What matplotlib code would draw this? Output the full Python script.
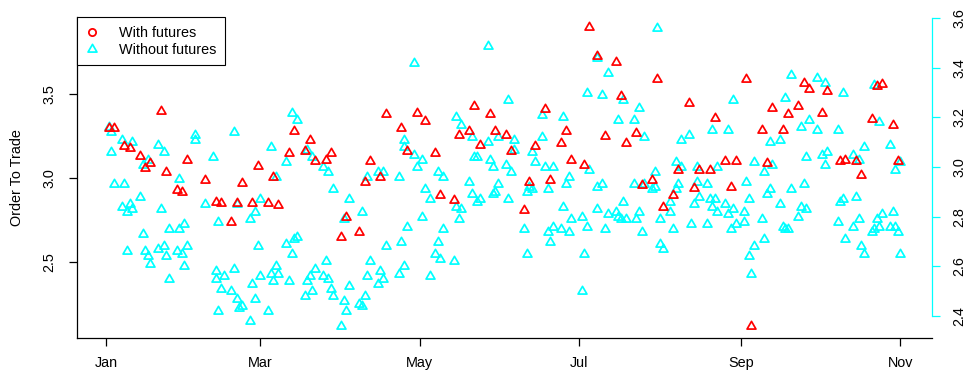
import numpy as np
import matplotlib
matplotlib.use('Agg')
import matplotlib.pyplot as plt
from matplotlib.path import Path
from matplotlib.lines import Line2D

plt.rcParams['font.family'] = ['Liberation Sans', 'DejaVu Sans']

year_start = np.datetime64('2015-01-01')

# days since Jan 1 and values, "With futures" (left axis)
red_days = [1, 3, 7, 9, 13, 15, 17, 21, 23, 27,
            29, 31, 38, 42, 44, 48, 50, 52, 56, 58,
            62, 64, 66, 70, 72, 76, 78, 80, 84, 86,
            90, 92, 97, 99, 101, 105, 107, 113, 115, 119,
            122, 126, 128, 133, 135, 139, 141, 143, 147, 149,
            153, 155, 160, 162, 164, 168, 170, 174, 176, 178,
            183, 185, 188, 191, 195, 197, 199, 203, 205, 209,
            211, 213, 217, 219, 223, 225, 227, 231, 233, 237,
            239, 241, 245, 247, 251, 253, 255, 259, 261, 265,
            267, 269, 274, 276, 281, 283, 287, 289, 293, 295,
            297, 301, 303]
red_vals = [3.30, 3.30, 3.19, 3.18, 3.13, 3.06, 3.09, 3.40, 3.04, 2.93,
            2.92, 3.11, 2.99, 2.86, 2.85, 2.74, 2.85, 2.97, 2.85, 3.07,
            2.85, 3.01, 2.84, 3.15, 3.28, 3.16, 3.23, 3.10, 3.11, 3.15,
            2.65, 2.77, 2.68, 2.98, 3.10, 3.01, 3.38, 3.30, 3.16, 3.39,
            3.34, 3.15, 2.90, 2.87, 3.26, 3.28, 3.43, 3.20, 3.38, 3.28,
            3.26, 3.16, 2.81, 2.98, 3.19, 3.41, 2.99, 3.21, 3.28, 3.11,
            3.08, 3.90, 3.73, 3.25, 3.69, 3.49, 3.21, 3.27, 2.96, 2.99,
            3.59, 2.83, 2.90, 3.05, 3.45, 2.94, 3.05, 3.05, 3.36, 3.10,
            2.95, 3.10, 3.59, 2.12, 3.29, 3.09, 3.42, 3.29, 3.38, 3.43,
            3.57, 3.53, 3.39, 3.52, 3.10, 3.11, 3.10, 3.02, 3.35, 3.55,
            3.56, 3.32, 3.10]

# "Without futures" (right axis)
cyan_days = [1, 2, 2, 3, 6, 6, 7, 8, 8, 9,
             10, 10, 13, 14, 14, 15, 16, 16, 17, 20,
             20, 21, 22, 22, 23, 24, 24, 27, 28, 28,
             29, 30, 30, 31, 34, 34, 38, 41, 43, 42,
             42, 44, 45, 43, 48, 49, 49, 50, 51, 52,
             50, 55, 55, 57, 56, 57, 58, 59, 59, 62,
             63, 63, 64, 65, 65, 66, 69, 69, 70, 71,
             71, 72, 73, 73, 76, 77, 78, 77, 79, 79,
             80, 83, 83, 84, 85, 85, 86, 87, 87, 90,
             91, 92, 91, 93, 93, 97, 98, 98, 99, 100,
             100, 101, 104, 104, 105, 106, 106, 107, 112, 112,
             113, 114, 114, 114, 115, 118, 118, 119, 121, 121,
             122, 124, 124, 126, 127, 127, 128, 129, 129, 133,
             134, 134, 135, 136, 136, 139, 140, 140, 141, 142,
             142, 143, 146, 146, 147, 148, 148, 149, 150, 150,
             153, 154, 154, 155, 156, 156, 160, 161, 161, 162,
             163, 163, 164, 167, 167, 168, 169, 169, 170, 171,
             171, 174, 175, 175, 176, 177, 177, 178, 182, 182,
             183, 184, 184, 185, 188, 188, 188, 190, 190, 191,
             192, 192, 195, 196, 196, 197, 198, 198, 199, 202,
             202, 203, 204, 204, 205, 206, 206, 209, 210, 210,
             211, 212, 212, 213, 216, 216, 217, 218, 218, 219,
             220, 220, 223, 224, 225, 226, 226, 227, 230, 230,
             231, 232, 232, 233, 234, 234, 237, 238, 238, 239,
             240, 240, 241, 244, 244, 245, 246, 246, 247, 248,
             248, 251, 252, 252, 253, 254, 254, 255, 258, 258,
             259, 260, 261, 260, 262, 262, 265, 266, 266, 268,
             268, 267, 269, 272, 272, 274, 275, 275, 276, 280,
             280, 281, 282, 282, 283, 286, 286, 287, 288, 288,
             289, 290, 290, 293, 294, 294, 295, 296, 296, 297,
             300, 300, 301, 302, 302, 303, 304, 304]
cyan_vals = [3.16, 3.14, 3.06, 2.93, 3.11, 2.84, 2.93, 2.82, 2.66, 2.85,
             2.83, 3.10, 2.88, 2.73, 3.01, 2.66, 3.03, 2.64, 2.61, 3.09,
             2.67, 2.83, 3.06, 2.68, 2.64, 2.75, 2.55, 2.66, 2.75, 2.95,
             2.65, 2.77, 2.60, 2.68, 3.13, 3.11, 2.85, 3.04, 2.78, 2.58,
             2.55, 2.51, 2.56, 2.42, 2.50, 2.59, 3.14, 2.47, 2.43, 2.44,
             2.85, 2.38, 2.79, 2.82, 2.53, 2.47, 2.68, 2.87, 2.56, 2.42,
             3.08, 2.57, 2.54, 2.60, 2.96, 2.57, 3.02, 2.69, 2.54, 3.22,
             2.65, 2.71, 3.19, 2.72, 2.48, 2.54, 2.56, 3.07, 3.04, 2.50,
             2.59, 3.00, 2.56, 2.62, 2.98, 2.55, 2.51, 2.48, 2.91, 2.36,
             2.46, 2.42, 2.79, 2.87, 2.52, 2.45, 2.44, 2.82, 2.48, 2.56,
             2.96, 2.62, 2.98, 2.53, 2.58, 2.98, 2.55, 2.68, 2.96, 2.57,
             2.70, 3.11, 3.08, 2.60, 2.76, 3.42, 3.05, 3.00, 3.03, 2.80,
             2.91, 2.87, 2.56, 2.65, 2.98, 2.70, 2.63, 2.96, 2.75, 2.62,
             3.20, 2.84, 2.79, 3.17, 2.83, 2.94, 3.12, 2.89, 3.04, 3.04,
             2.86, 2.87, 3.49, 3.10, 3.03, 3.00, 2.89, 2.90, 3.12, 2.93,
             3.01, 3.27, 2.87, 2.98, 3.11, 3.07, 2.75, 2.65, 2.90, 2.92,
             2.91, 3.06, 3.02, 3.21, 3.12, 3.00, 2.91, 2.74, 2.70, 3.00,
             2.76, 2.75, 3.20, 2.84, 2.93, 2.96, 2.74, 2.79, 2.80, 2.50,
             2.65, 3.30, 2.76, 2.99, 2.83, 3.44, 2.92, 3.29, 2.93, 2.75,
             3.38, 2.81, 2.82, 3.19, 2.80, 2.79, 3.27, 2.86, 2.79, 2.93,
             3.19, 2.79, 3.24, 2.82, 2.74, 3.12, 2.93, 2.91, 2.98, 2.92,
             3.56, 2.79, 2.69, 2.67, 2.86, 2.82, 2.75, 3.02, 2.91, 2.93,
             3.11, 3.00, 3.13, 2.77, 2.85, 2.94, 3.00, 2.88, 2.77, 2.93,
             2.87, 2.84, 3.15, 2.87, 2.82, 3.00, 2.85, 3.15, 2.81, 2.75,
             3.27, 2.83, 2.77, 2.82, 2.78, 2.94, 2.87, 2.64, 2.57, 2.68,
             3.02, 2.79, 2.98, 2.71, 2.89, 3.10, 2.91, 3.01, 3.11, 2.85,
             2.76, 2.75, 2.75, 3.28, 3.37, 2.91, 2.80, 3.16, 2.84, 3.04,
             2.83, 2.93, 3.19, 3.15, 3.36, 3.05, 3.34, 3.01, 3.06, 3.15,
             2.78, 2.86, 2.87, 3.30, 2.71, 2.76, 3.05, 2.88, 2.79, 3.03,
             2.68, 2.65, 3.08, 2.74, 3.33, 2.75, 2.79, 3.18, 2.76, 2.81,
             2.76, 3.09, 2.82, 2.76, 2.99, 2.74, 3.02, 2.65]

tick_dates = ['2015-01-01', '2015-03-01', '2015-05-01', '2015-07-01', '2015-09-01', '2015-11-01']
tick_labels = ['Jan', 'Mar', 'May', 'Jul', 'Sep', 'Nov']
left_ticks = [2.5, 3.0, 3.5]
right_ticks = [2.4, 2.6, 2.8, 3.0, 3.2, 3.4, 3.6]
series_labels = ['With futures', 'Without futures']
ylabel = 'Order To Trade'

RED = '#FF0000'
CYAN = '#00FFFF'
FS = 10.4

red_x = year_start + np.array(red_days).astype('timedelta64[D]')
cyan_x = year_start + np.array(cyan_days).astype('timedelta64[D]')

tri = Path([(0, 1), (-0.866, -0.5), (0.866, -0.5), (0, 1)],
           [Path.MOVETO, Path.LINETO, Path.LINETO, Path.CLOSEPOLY])

fig = plt.figure(figsize=(9.66, 3.78), dpi=100)
W, H = 966.0, 378.0
L, R_, T, B = 77.3, 931.7, 17.0, 338.0
ax = fig.add_axes([L / W, 1 - B / H, (R_ - L) / W, (B - T) / H])
ax2 = ax.twinx()

ax2.plot(cyan_x, cyan_vals, ls='none', marker=tri, ms=7.4, mfc='none',
         mec=CYAN, mew=1.25)
ax.plot(red_x, red_vals, ls='none', marker=tri, ms=7.4, mfc='none',
        mec=RED, mew=1.25)

ax.set_zorder(ax2.get_zorder() + 1)
ax.patch.set_visible(False)

ax.set_xlim(year_start - np.timedelta64(11, 'D'), year_start + np.timedelta64(316, 'D'))
ax.set_ylim(2.049, 3.960)
ax2.set_ylim(2.311, 3.605)

ax.set_xticks([np.datetime64(d) for d in tick_dates])
ax.set_xticklabels(tick_labels)
ax.set_yticks(left_ticks)
ax.set_yticklabels(['%.1f' % v for v in left_ticks])
ax2.set_yticks(right_ticks)
ax2.set_yticklabels(['%.1f' % v for v in right_ticks])

for s in ['top', 'right']:
    ax.spines[s].set_visible(False)
for s in ['top', 'left', 'bottom']:
    ax2.spines[s].set_visible(False)
ax.spines['left'].set_linewidth(0.9)
ax.spines['bottom'].set_linewidth(0.9)
ax2.spines['right'].set_color(CYAN)
ax2.spines['right'].set_linewidth(0.9)
ax2.spines['right'].set_bounds(2.4, 3.6)

ax.tick_params(axis='x', length=6, width=0.9, pad=7, labelsize=FS, colors='black')
ax.tick_params(axis='y', length=6, width=0.9, pad=9, labelsize=FS, labelrotation=90)
for t in ax.get_yticklabels():
    t.set_va('center')
ax2.tick_params(axis='y', length=6, width=0.9, pad=9, labelsize=FS, labelrotation=90,
                color=CYAN, labelcolor='black')
for t in ax2.get_yticklabels():
    t.set_va('center')

fig.text(17 / W, 1 - 177.5 / H, ylabel, rotation=90, ha='center', va='center', fontsize=FS)

handles = [
    Line2D([], [], ls='none', marker='o', ms=5.2, mfc='none', mec=RED, mew=1.3, label=series_labels[0]),
    Line2D([], [], ls='none', marker=tri, ms=7.4, mfc='none', mec=CYAN, mew=1.25, label=series_labels[1]),
]
leg = ax.legend(handles=handles, loc='upper left', bbox_to_anchor=(0, 1), borderaxespad=0,
                frameon=True, fancybox=False, edgecolor='black', framealpha=1, fontsize=FS,
                borderpad=0.6, labelspacing=0.2, handlelength=0.9, handletextpad=1.4)
leg.get_frame().set_linewidth(0.8)

fig.savefig('out.png', dpi=100)
